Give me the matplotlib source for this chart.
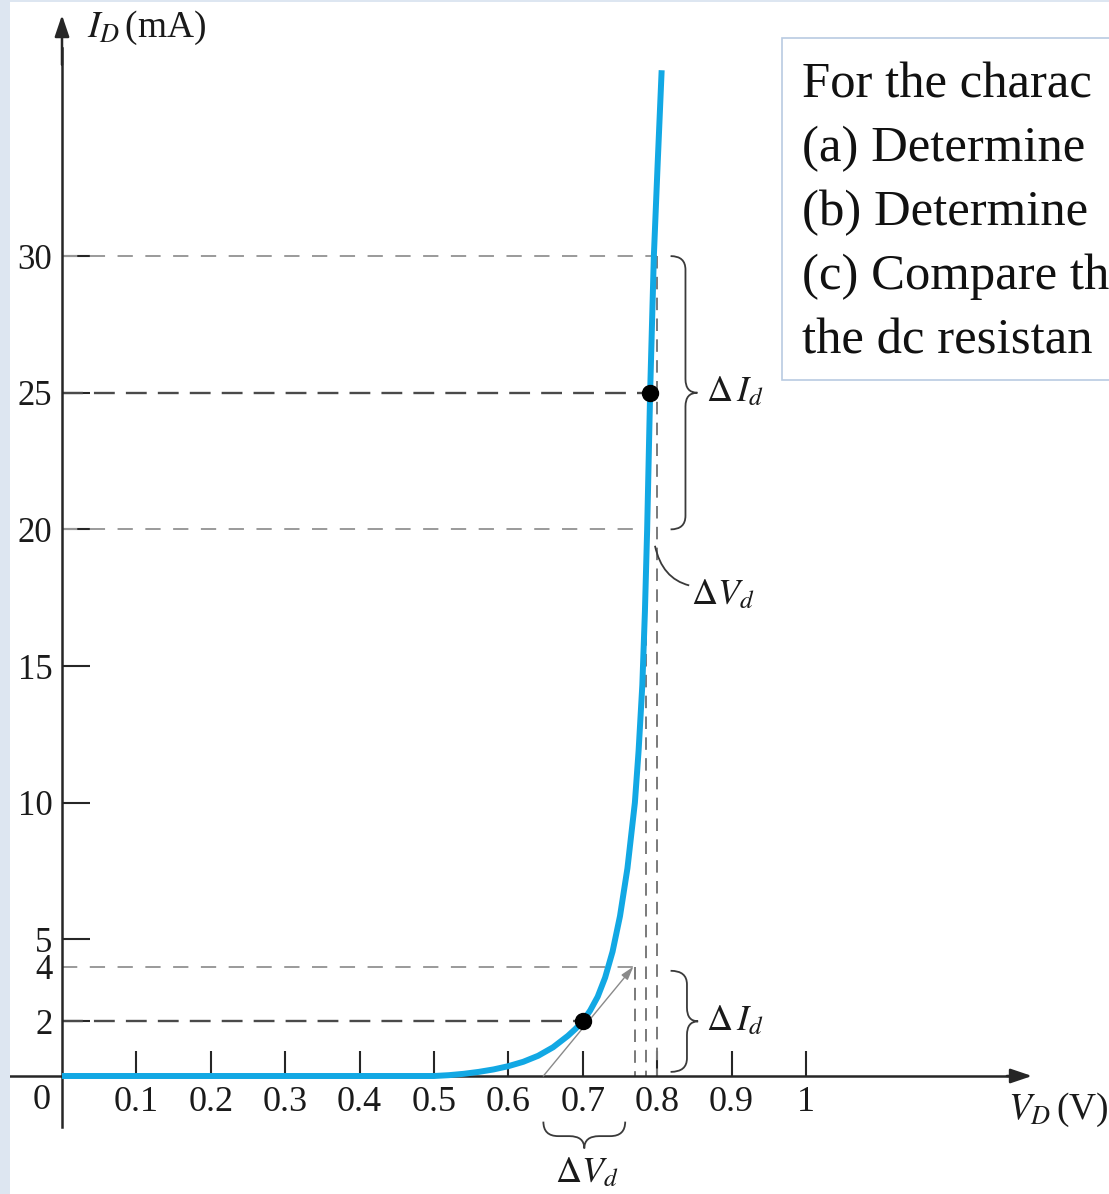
import matplotlib
matplotlib.use("Agg")
import matplotlib.pyplot as plt
from matplotlib.path import Path
from matplotlib.patches import PathPatch, Rectangle

plt.rcParams["font.family"] = ["Liberation Serif", "DejaVu Serif"]
plt.rcParams["mathtext.fontset"] = "stix"
plt.rcParams["lines.scale_dashes"] = False

# Diode characteristic I_D (mA) versus V_D (V)
vd = [0.00, 0.50, 0.52, 0.54, 0.56, 0.58, 0.60, 0.62, 0.64, 0.66, 0.68, 0.69,
      0.70, 0.71, 0.72, 0.73, 0.74, 0.75, 0.76, 0.77, 0.775, 0.780, 0.7835,
      0.7865, 0.7905, 0.7955, 0.8005, 0.806]
id_ma = [0.00, 0.00, 0.03, 0.08, 0.15, 0.24, 0.36, 0.52, 0.74, 1.05, 1.47, 1.72,
         2.00, 2.40, 2.90, 3.60, 4.55, 5.85, 7.60, 10.0, 11.9, 14.3, 17.0,
         20.0, 25.0, 30.0, 33.3, 36.8]

# Q-points where the ac resistance is evaluated
q_v = [0.70, 0.79]
q_i = [2.0, 25.0]

# Horizontal guides: current level, voltage where it ends, dark or light
hguide_i = [30, 25, 20, 4, 2]
hguide_v = [0.80, 0.79, 0.785, 0.77, 0.70]
hguide_dark = [False, True, False, False, True]

# Vertical guides: voltage and current where they start
vguide_v = [0.77, 0.785, 0.80]
vguide_i = [4, 20, 30]

# Tangent at the 2 mA point
tangent_v = [0.647, 0.768]
tangent_i = [0.0, 4.0]

xticks = [0.1, 0.2, 0.3, 0.4, 0.5, 0.6, 0.7, 0.8, 0.9, 1.0]
xtick_labels = ["0.1", "0.2", "0.3", "0.4", "0.5", "0.6", "0.7", "0.8", "0.9", "1"]
yticks = [2, 4, 5, 10, 15, 20, 25, 30]
ytick_labels = ["2", "4", "5", "10", "15", "20", "25", "30"]

question = [
    "For the charac",
    "(a) Determine",
    "(b) Determine",
    "(c) Compare th",
    "the dc resistan",
]

BLUE = "#12a8e4"
AX = "#262626"
LIGHT = "#9a9a9a"
DARK = "#4a4a4a"
TXT = "#1a1a1a"

fig = plt.figure(figsize=(11.09, 11.94), dpi=100)
fig.patch.set_facecolor("white")
ax = fig.add_axes([0, 0, 1, 1])
ax.set_facecolor("none")
ax.set_xlim(-0.08333, 1.40726)
ax.set_ylim(-4.3176, 39.370)

# page edge strips
fig.patches.append(Rectangle((0, 0), 10 / 1109, 1, transform=fig.transFigure,
                             facecolor="#dde6f1", edgecolor="none", zorder=0))
fig.patches.append(Rectangle((0, 1 - 2 / 1194), 1, 2 / 1194, transform=fig.transFigure,
                             facecolor="#dde6f1", edgecolor="none", zorder=0))

# axes through the origin
for s in ["top", "right"]:
    ax.spines[s].set_visible(False)
ax.spines["left"].set_position(("data", 0))
ax.spines["bottom"].set_position(("data", 0))
ax.spines["left"].set_bounds(-1.87, 37.6)
ax.spines["bottom"].set_bounds(-0.07, 1.285)
for s in ["left", "bottom"]:
    ax.spines[s].set_linewidth(1.8)
    ax.spines[s].set_color(AX)

arrow_kw = dict(arrowstyle="-|>,head_length=0.65,head_width=0.22", color=AX,
                lw=1.8, shrinkA=0, shrinkB=0, mutation_scale=20)
ax.annotate("", xy=(0, 38.82), xytext=(0, 37.0), arrowprops=arrow_kw)
ax.annotate("", xy=(1.3038, 0), xytext=(1.27, 0), arrowprops=arrow_kw)

ax.set_xticks(xticks)
ax.set_xticklabels(xtick_labels)
ax.set_yticks(yticks)
ax.set_yticklabels(ytick_labels)
ax.tick_params(axis="x", direction="in", length=18, width=1.5, color=AX,
               pad=7, labelsize=26, labelcolor=TXT)
ax.tick_params(axis="y", direction="in", length=20, width=1.5, color=AX,
               pad=7, labelsize=25, labelcolor=TXT)
for t, lab in zip(ax.yaxis.get_major_ticks(), ytick_labels):
    if lab == "4":
        t.tick1line.set_visible(False)
ax.text(-0.027, -0.9, "0", fontsize=26, color=TXT, ha="center", va="center")

# dashed guides
for yi, xv, dark in zip(hguide_i, hguide_v, hguide_dark):
    ax.plot([0, xv], [yi, yi], color=DARK if dark else LIGHT,
            lw=1.7 if dark else 1.4, dashes=(15, 8) if dark else (11, 9), zorder=2)
for xv, yi in zip(vguide_v, vguide_i):
    ax.plot([xv, xv], [yi, 0], color="#7a7a7a", lw=1.4, dashes=(9, 6), zorder=2)

# tangent line
ax.annotate("", xy=(tangent_v[1], tangent_i[1]), xytext=(tangent_v[0], tangent_i[0]),
            arrowprops=dict(arrowstyle="-|>,head_length=0.4,head_width=0.12",
                            color="#8a8a8a", lw=1.0, shrinkA=0, shrinkB=0,
                            mutation_scale=20), zorder=3)

# characteristic curve
ax.plot(vd, id_ma, color=BLUE, lw=4.3, solid_capstyle="butt",
        solid_joinstyle="round", zorder=4)
ax.plot(q_v, q_i, "o", color="black", ms=11.5, zorder=5)

BR = dict(facecolor="none", edgecolor="#3a3a3a", lw=1.3, zorder=3)


def vbrace(y0, y1, x_end, x_spine, x_tip, r):
    ym = (y0 + y1) / 2
    verts = [(x_end, y1), (x_spine, y1), (x_spine, y1 - r),
             (x_spine, ym + r),
             (x_spine, ym), (x_tip, ym),
             (x_spine, ym), (x_spine, ym - r),
             (x_spine, y0 + r),
             (x_spine, y0), (x_end, y0)]
    codes = [Path.MOVETO, Path.CURVE3, Path.CURVE3, Path.LINETO,
             Path.CURVE3, Path.CURVE3, Path.CURVE3, Path.CURVE3,
             Path.LINETO, Path.CURVE3, Path.CURVE3]
    ax.add_patch(PathPatch(Path(verts, codes), **BR))


def hbrace(x0, x1, y_end, y_spine, y_tip, r):
    xm = (x0 + x1) / 2
    verts = [(x0, y_end), (x0, y_spine), (x0 + r, y_spine),
             (xm - r, y_spine),
             (xm, y_spine), (xm, y_tip),
             (xm, y_spine), (xm + r, y_spine),
             (x1 - r, y_spine),
             (x1, y_spine), (x1, y_end)]
    codes = [Path.MOVETO, Path.CURVE3, Path.CURVE3, Path.LINETO,
             Path.CURVE3, Path.CURVE3, Path.CURVE3, Path.CURVE3,
             Path.LINETO, Path.CURVE3, Path.CURVE3]
    ax.add_patch(PathPatch(Path(verts, codes), **BR))


vbrace(20, 30, 0.818, 0.838, 0.854, 0.5)
vbrace(0.15, 3.85, 0.818, 0.840, 0.855, 0.5)
hbrace(0.647, 0.757, -1.67, -2.2, -2.65, 0.02)

# leader from the upper voltage increment
lead = Path([(0.797, 19.4), (0.8065, 18.2), (0.843, 17.95)],
            [Path.MOVETO, Path.CURVE3, Path.CURVE3])
ax.add_patch(PathPatch(lead, **BR))

LBL = dict(fontsize=26, color=TXT, va="center")
ax.text(0.866, 25.0, r"$\Delta\, I_d$", ha="left", **LBL)
ax.text(0.866, 2.0, r"$\Delta\, I_d$", ha="left", **LBL)
ax.text(0.846, 17.6, r"$\Delta V_d$", ha="left", **LBL)
ax.text(0.705, -3.55, r"$\Delta V_d$", ha="center", **LBL)

ax.text(0.034, 38.35, r"$I_D\,$(mA)", fontsize=27, color=TXT, ha="left", va="center")
ax.text(1.272, -1.25, r"$V_D\,$(V)", fontsize=27, color=TXT, ha="left", va="center")

# problem statement box
fig.patches.append(Rectangle((782 / 1109, (1194 - 380) / 1194), 0.4, 342 / 1194,
                             transform=fig.transFigure, facecolor="white",
                             edgecolor="#b9cbe2", lw=1.2, zorder=5))
for k, line in enumerate(question):
    fig.text(802 / 1109, (1194 - 97 - 64 * k) / 1194, line, fontsize=36.5,
             color="#111111", ha="left", va="baseline", zorder=6)

fig.savefig("out.png", dpi=100)
